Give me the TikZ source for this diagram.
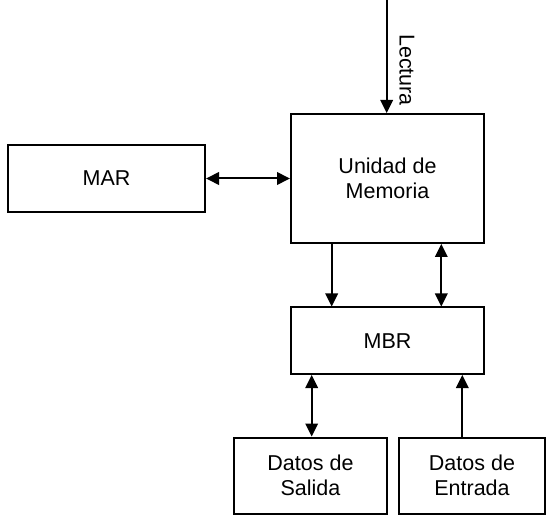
\documentclass[tikz,border=0pt]{standalone}
\usepackage{fontspec}
\setmainfont{Liberation Sans}
\usetikzlibrary{arrows.meta}
\begin{document}
\begin{tikzpicture}[x=1pt,y=1pt,
  blk/.style={draw=black, line width=2pt, fill=white, align=center,
    inner sep=0pt, font=\fontsize{21.5}{25}\selectfont},
  link/.style={line width=2pt, {Triangle[length=13pt,width=12.5pt]}-{Triangle[length=13pt,width=12.5pt]}},
  fwd/.style={line width=2pt, -{Triangle[length=13pt,width=12.5pt]}}]
  \useasboundingbox (0,0) rectangle (547,-516);

  % blocks
  \node[blk, minimum width=197pt, minimum height=67pt]  (mar) at (106.5,-178.5) {MAR};
  \node[blk, minimum width=193pt, minimum height=129pt] (mem) at (387.5,-178.5) {Unidad de\\Memoria};
  \node[blk, minimum width=193pt, minimum height=66.5pt] (mbr) at (387.5,-340.75) {MBR};
  \node[blk, minimum width=153pt, minimum height=76.5pt] (sal) at (310.5,-475.75) {Datos de\\Salida};
  \node[blk, minimum width=146pt, minimum height=76.5pt] (ent) at (472,-475.75) {Datos de\\Entrada};

  % read line from above
  \coordinate (lec) at (386.7,0);
  \draw[fwd] (lec) -- (mem.north -| lec);
  \node[rotate=-90, font=\fontsize{21.5}{25}\selectfont] (leclbl) at (407,-70) {Lectura};

  % address and data paths
  \draw[link] (mar.east) -- (mem.west);
  \draw[fwd]  ([xshift=41.7pt]mem.south west) -- ([xshift=41.7pt]mbr.north west);
  \draw[link] ([xshift=151.3pt]mem.south west) -- ([xshift=151.3pt]mbr.north west);
  \draw[link] ([xshift=21.7pt]mbr.south west) -- ([xshift=21.7pt]mbr.south west |- sal.north);
  \draw[fwd]  ([xshift=-9.7pt]ent.north) -- ([xshift=-9.7pt]ent.north |- mbr.south);
\end{tikzpicture}
\end{document}
